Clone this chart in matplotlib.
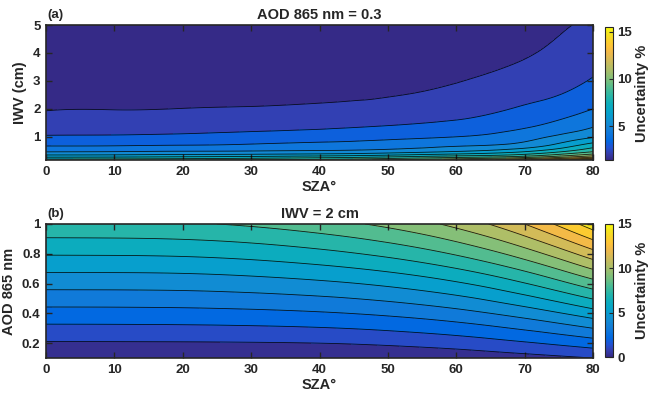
import numpy as np
import matplotlib
matplotlib.use('Agg')
import matplotlib.pyplot as plt
import matplotlib.tri as mtri
from matplotlib.colors import LinearSegmentedColormap, Normalize
from matplotlib.cm import ScalarMappable

# ---------------- data ----------------
sza = [0, 10, 20, 30, 40, 50, 60, 70, 75, 80]

# panel (a): AOD 865 nm = 0.3, uncertainty (%) vs IWV (rows) and SZA (cols)
iwv = [0.17, 0.25, 0.35, 0.5, 0.7, 1.0, 1.4, 2.0, 3.0, 4.0, 5.0]
unc_a = [
    [8.6, 8.7, 8.9, 9.2, 9.5, 10.2, 11.2, 12.8, 14.0, 15.5],
    [7.3, 7.35, 7.5, 7.7, 8.0, 8.5, 9.2, 10.2, 11.3, 12.5],
    [6.0, 6.05, 6.2, 6.3, 6.5, 6.9, 7.5, 8.3, 9.3, 10.5],
    [4.75, 4.8, 4.9, 4.95, 5.05, 5.3, 5.8, 6.7, 7.6, 8.7],
    [3.9, 3.92, 4.0, 4.12, 4.3, 4.5, 4.85, 5.4, 6.3, 7.5],
    [3.1, 3.12, 3.2, 3.33, 3.5, 3.75, 4.0, 4.6, 5.2, 5.9],
    [2.5, 2.52, 2.58, 2.68, 2.8, 3.0, 3.3, 3.85, 4.3, 4.9],
    [1.96, 1.98, 2.01, 2.05, 2.12, 2.24, 2.52, 3.15, 3.5, 4.0],
    [1.68, 1.69, 1.72, 1.76, 1.8, 1.86, 1.98, 2.3, 2.6, 3.1],
    [1.5, 1.51, 1.53, 1.57, 1.62, 1.69, 1.79, 1.95, 2.15, 2.5],
    [1.4, 1.41, 1.43, 1.46, 1.5, 1.56, 1.65, 1.79, 1.93, 2.12],
]

# panel (b): IWV = 2 cm, uncertainty (%) vs AOD 865 (rows) and SZA (cols)
aod = [0.1, 0.4, 0.7, 1.0]
unc_b = [
    [0.05, 0.05, 0.05, 0.05, 0.05, 0.15, 0.33, 0.63, 0.8, 1.0],
    [2.63, 2.64, 2.67, 2.75, 2.9, 3.18, 3.65, 4.42, 4.93, 5.53],
    [5.22, 5.23, 5.28, 5.45, 5.75, 6.22, 6.98, 8.21, 9.07, 10.07],
    [7.8, 7.82, 7.9, 8.15, 8.6, 9.25, 10.3, 12.0, 13.2, 14.6],
]

levels = list(range(0, 17))
title_a = "AOD 865 nm = 0.3"
title_b = "IWV = 2 cm"

# ---------------- parula colormap ----------------
parula_anchors = [
    [0.2081, 0.1663, 0.5292], [0.2081, 0.2386, 0.6771], [0.1253, 0.3242, 0.8303],
    [0.0060, 0.4086, 0.8828], [0.0498, 0.4586, 0.8641], [0.0779, 0.5040, 0.8384],
    [0.0641, 0.5570, 0.8240], [0.0265, 0.6137, 0.8135], [0.0228, 0.6535, 0.7768],
    [0.0590, 0.6838, 0.7254], [0.1453, 0.7098, 0.6646], [0.2586, 0.7317, 0.5954],
    [0.3953, 0.7459, 0.5244], [0.5300, 0.7491, 0.4661], [0.6473, 0.7456, 0.4188],
    [0.7525, 0.7384, 0.3768], [0.8507, 0.7299, 0.3360], [0.9450, 0.7261, 0.2886],
    [0.9990, 0.7653, 0.2164], [0.9788, 0.8271, 0.1633], [0.9589, 0.8949, 0.1132],
    [0.9763, 0.9831, 0.0538],
]
parula = LinearSegmentedColormap.from_list("parula", parula_anchors, N=256)

plt.rcParams['font.family'] = ['Liberation Sans', 'DejaVu Sans']
plt.rcParams['font.weight'] = 'bold'
plt.rcParams['axes.labelweight'] = 'bold'
tc = (0.15, 0.15, 0.15)


def smooth_field(xv, yv, z, xs, ys, ylog):
    X, Y = np.meshgrid(np.asarray(xv, float), np.asarray(yv, float))
    Z = np.asarray(z, float)
    f = np.log if ylog else (lambda v: v)
    y0, y1 = f(ys[0]), f(ys[1])
    xr = xs[1] - xs[0]; yr = y1 - y0
    tri = mtri.Triangulation((X.ravel() - xs[0]) / xr, (f(Y.ravel()) - y0) / yr)
    interp = mtri.CubicTriInterpolator(tri, Z.ravel(), kind='min_E')
    gx = np.linspace(xs[0], xs[1], 400)
    gy = np.linspace(ys[0], ys[1], 400)
    GX, GY = np.meshgrid(gx, gy)
    GZ = interp((GX - xs[0]) / xr, (f(GY) - y0) / yr)
    return GX, GY, np.ma.filled(GZ, np.nan)


fig = plt.figure(figsize=(6.48, 4.01), dpi=100)
W, H = 648.0, 401.0

def box(l, t, r, b):
    return [l / W, 1 - b / H, (r - l) / W, (b - t) / H]

panels = [
    dict(ax=box(46, 25, 593, 160), cax=box(605, 27, 613, 160), x=sza, y=iwv, z=unc_a,
         ylim=(min(iwv), max(iwv)), ylog=True, vmin=1.4, vmax=15.5, yticks=[1, 2, 3, 4, 5],
         yticklabels=['1', '2', '3', '4', '5'], ylabel='IWV (cm)', title=title_a,
         tag='(a)', cticks=[5, 10, 15]),
    dict(ax=box(46, 224, 593, 358), cax=box(605, 224, 613, 357), x=sza, y=aod, z=unc_b,
         ylim=(min(aod), max(aod)), ylog=False, vmin=0, vmax=15, yticks=[0.2, 0.4, 0.6, 0.8, 1.0],
         yticklabels=['0.2', '0.4', '0.6', '0.8', '1'], ylabel='AOD 865 nm', title=title_b,
         tag='(b)', cticks=[0, 5, 10, 15]),
]

for p in panels:
    ax = fig.add_axes(p['ax'])
    GX, GY, GZ = smooth_field(p['x'], p['y'], p['z'], (0, 80), p['ylim'], p['ylog'])
    norm = Normalize(p['vmin'], p['vmax'])
    # band colour taken a little below the band centre (close to MATLAB filling)
    fill_norm = Normalize(p['vmin'] + 0.3, p['vmax'] + 0.3)
    ax.contourf(GX, GY, GZ, levels=levels, cmap=parula, norm=fill_norm, extend='both')
    ax.contour(GX, GY, GZ, levels=levels, colors='k', linewidths=0.6, alpha=0.85)
    ax.set_xlim(0, 80)
    ax.set_ylim(*p['ylim'])
    ax.set_xticks(range(0, 81, 10))
    ax.set_yticks(p['yticks'])
    ax.set_yticklabels(p['yticklabels'])
    ax.tick_params(direction='in', top=True, right=True, length=4, width=1.0,
                   labelsize=9.5, colors=tc, labelcolor=tc, pad=4)
    for s in ax.spines.values():
        s.set_color(tc)
        s.set_linewidth(1.2)
    ax.set_xlabel('SZA°', fontsize=10.5, color=tc, labelpad=2)
    ax.set_ylabel(p['ylabel'], fontsize=10.5, color=tc, labelpad=4)
    ax.set_title(p['title'], fontsize=10.5, fontweight='bold', color=tc, pad=4)
    ax.text(0.003, 1.03, p['tag'], transform=ax.transAxes, fontsize=9.5,
            fontweight='bold', color=tc, ha='left', va='bottom')

    cax = fig.add_axes(p['cax'])
    sm = ScalarMappable(norm=norm, cmap=parula)
    cb = fig.colorbar(sm, cax=cax)
    cb.set_ticks(p['cticks'])
    cb.ax.tick_params(direction='in', length=3, width=0.8, labelsize=9.5,
                      colors=tc, labelcolor=tc, pad=3)
    cb.outline.set_edgecolor(tc)
    cb.outline.set_linewidth(0.8)
    cb.set_label('Uncertainty %', fontsize=10.5, fontweight='bold', color=tc, labelpad=2)

fig.savefig('out.png', dpi=100)
